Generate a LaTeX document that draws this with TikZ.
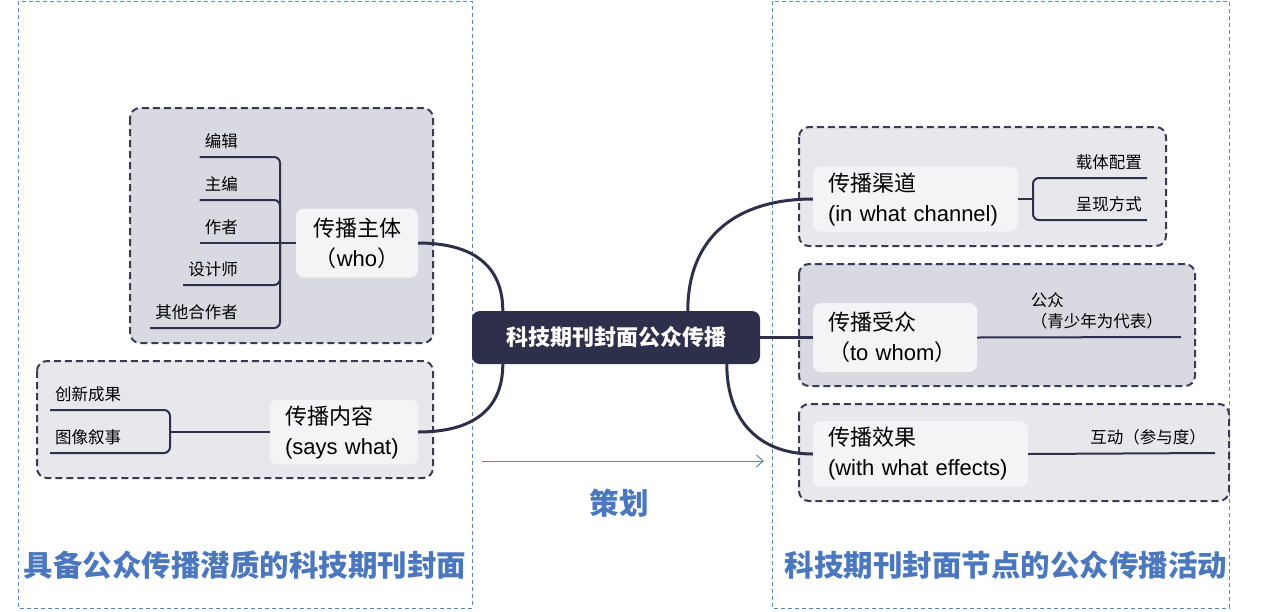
\documentclass[tikz,border=0pt]{standalone}
\usepackage{fontspec}
\setmainfont{Liberation Sans}
\newfontfamily\cjk{Noto Sans CJK SC}
\usetikzlibrary{arrows.meta}
\definecolor{navy}{HTML}{2E2F4A}
\definecolor{bordegrupo}{HTML}{3A3B52}
\definecolor{grisoscuro}{HTML}{D9D9E1}
\definecolor{grisclaro}{HTML}{E7E7EC}
\definecolor{fondotema}{HTML}{F4F4F6}
\definecolor{azul}{HTML}{4A77BE}
\definecolor{azulzona}{HTML}{5C86BF}
\newcommand{\zh}[1]{{\cjk #1}}

\begin{document}
\begin{tikzpicture}[x=1pt, y=-1pt,
    zona/.style={draw=azulzona, line width=0.9pt, dash pattern=on 4pt off 3pt},
    grupo/.style={draw=bordegrupo, line width=2pt, dash pattern=on 7pt off 4pt, rounded corners=10pt},
    centro/.style={fill=navy, text=white, rounded corners=8pt, minimum width=288pt, minimum height=53pt, font=\cjk\bfseries\fontsize{22}{26}\selectfont},
    tema/.style={fill=fondotema, rounded corners=8pt, inner xsep=15pt, align=left, font=\fontsize{22}{30}\selectfont},
    hoja/.style={inner xsep=5pt, inner ysep=8pt, font=\cjk\fontsize{16.5}{21}\selectfont},
    enlace/.style={draw=navy, line width=3pt},
    rama/.style={draw=navy, line width=2pt, rounded corners=6pt},
    titulo/.style={text=azul, font=\cjk\bfseries\fontsize{29.5}{32}\selectfont}]

    \useasboundingbox (0,0) rectangle (1267,611);

    % Zonas
    \draw[zona] (18,1) rectangle (472,608);
    \draw[zona] (772,1) rectangle (1229,608);

    % Grupos
    \draw[grupo, fill=grisoscuro] (130,108) rectangle (433,343);
    \draw[grupo, fill=grisclaro] (37,361) rectangle (433,478);
    \draw[grupo, fill=grisclaro] (799,127) rectangle (1166,246);
    \draw[grupo, fill=grisoscuro] (799,264) rectangle (1195,386);
    \draw[grupo, fill=grisclaro] (799,404) rectangle (1229,501);

    % Nodo central
    \node[centro] (hub) at (616,337.5) {科技期刊封面公众传播};

    % Temas
    \node[tema, align=center, text width=92pt, minimum height=69pt] (zt) at (357,243) {\zh{传播主体}\\\zh{（}who\zh{）}};
    \node[tema, text width=118pt, minimum height=65pt] (nr) at (344,432) {\zh{传播内容}\\(says what)};
    \node[tema, text width=175pt, minimum height=65pt] (qd) at (915.5,199) {\zh{传播渠道}\\(in what channel)};
    \node[tema, text width=134pt, minimum height=69pt] (sz) at (895,337.5) {\zh{传播受众}\\\zh{（}to whom\zh{）}};
    \node[tema, text width=185pt, minimum height=66pt] (xg) at (920.5,454) {\zh{传播效果}\\(with what effects)};

    % Enlaces con el nodo central
    \draw[enlace] (zt.east) .. controls +(55,0) and +(0,-45) .. ([xshift=31pt]hub.north west);
    \draw[enlace] (nr.east) .. controls +(55,0) and +(0,45) .. ([xshift=31pt]hub.south west);
    \draw[enlace] ([xshift=216pt]hub.north west) .. controls +(0,-75) and +(-75,0) .. (qd.west);
    \draw[enlace] (hub.east) -- (sz.west);
    \draw[enlace] ([xshift=255pt]hub.south west) .. controls +(0,55) and +(-55,0) .. (xg.west);

    % Hojas de 传播主体
    \coordinate (zt-j) at (280,243);
    \node[hoja, anchor=south east] (bj) at (243,157) {编辑};
    \node[hoja, anchor=south east] (zb) at (243,200) {主编};
    \node[hoja, anchor=south east] (zz) at (243,243) {作者};
    \node[hoja, anchor=south east] (sj) at (243,285) {设计师};
    \node[hoja, anchor=south east] (qt) at (243,328) {其他合作者};
    \draw[rama] (bj.south west) -- (bj.south west -| zt-j) -- (zt-j);
    \draw[rama] (zb.south west) -- (zb.south west -| zt-j) -- (zt-j);
    \draw[rama] (sj.south west) -- (sj.south west -| zt-j) -- (zt-j);
    \draw[rama] (qt.south west) -- (qt.south west -| zt-j) -- (zt-j);
    \draw[rama] (zz.south west) -- (zt.west);

    % Hojas de 传播内容
    \coordinate (nr-j) at (170,432);
    \node[hoja, anchor=south west] (cx) at (50,410) {创新成果};
    \node[hoja, anchor=south west] (tx) at (50,453) {图像叙事};
    \draw[rama] (cx.south west) -- (cx.south west -| nr-j) -- (nr-j);
    \draw[rama] (tx.south west) -- (tx.south west -| nr-j) -- (nr-j);
    \draw[rama] (nr-j) -- (nr.west);

    % Hojas de 传播渠道
    \coordinate (qd-j) at (1033,199);
    \node[hoja, anchor=south east] (zp) at (1147,178) {载体配置};
    \node[hoja, anchor=south east] (cf) at (1147,220) {呈现方式};
    \draw[rama] (qd.east) -- (qd-j);
    \draw[rama] (zp.south east) -- (zp.south east -| qd-j) -- (qd-j);
    \draw[rama] (cf.south east) -- (cf.south east -| qd-j) -- (qd-j);

    % Hojas de 传播受众 y 传播效果
    \node[hoja, anchor=south east, align=left, text width=145pt] (gz) at (1181,337) {公众\\（青少年为代表）};
    \draw[rama] (sz.east) -- (gz.south east);
    \node[hoja, anchor=south east, inner xsep=9pt] (hd) at (1215,453) {互动（参与度）};
    \draw[rama] (xg.east) -- (hd.south east);

    % Flecha y titulos
    \coordinate (ch-a) at (482,461);
    \coordinate (ch-b) at (764,461);
    \draw[draw=azulzona, line width=1pt, -{Straight Barb[length=7pt, width=12pt]}] (ch-a) -- (ch-b);
    \node[titulo] (ch) at (619,503) {策划};
    \node[titulo] (tl) at (245,565) {具备公众传播潜质的科技期刊封面};
    \node[titulo] (tr) at (1006,565) {科技期刊封面节点的公众传播活动};
\end{tikzpicture}
\end{document}
